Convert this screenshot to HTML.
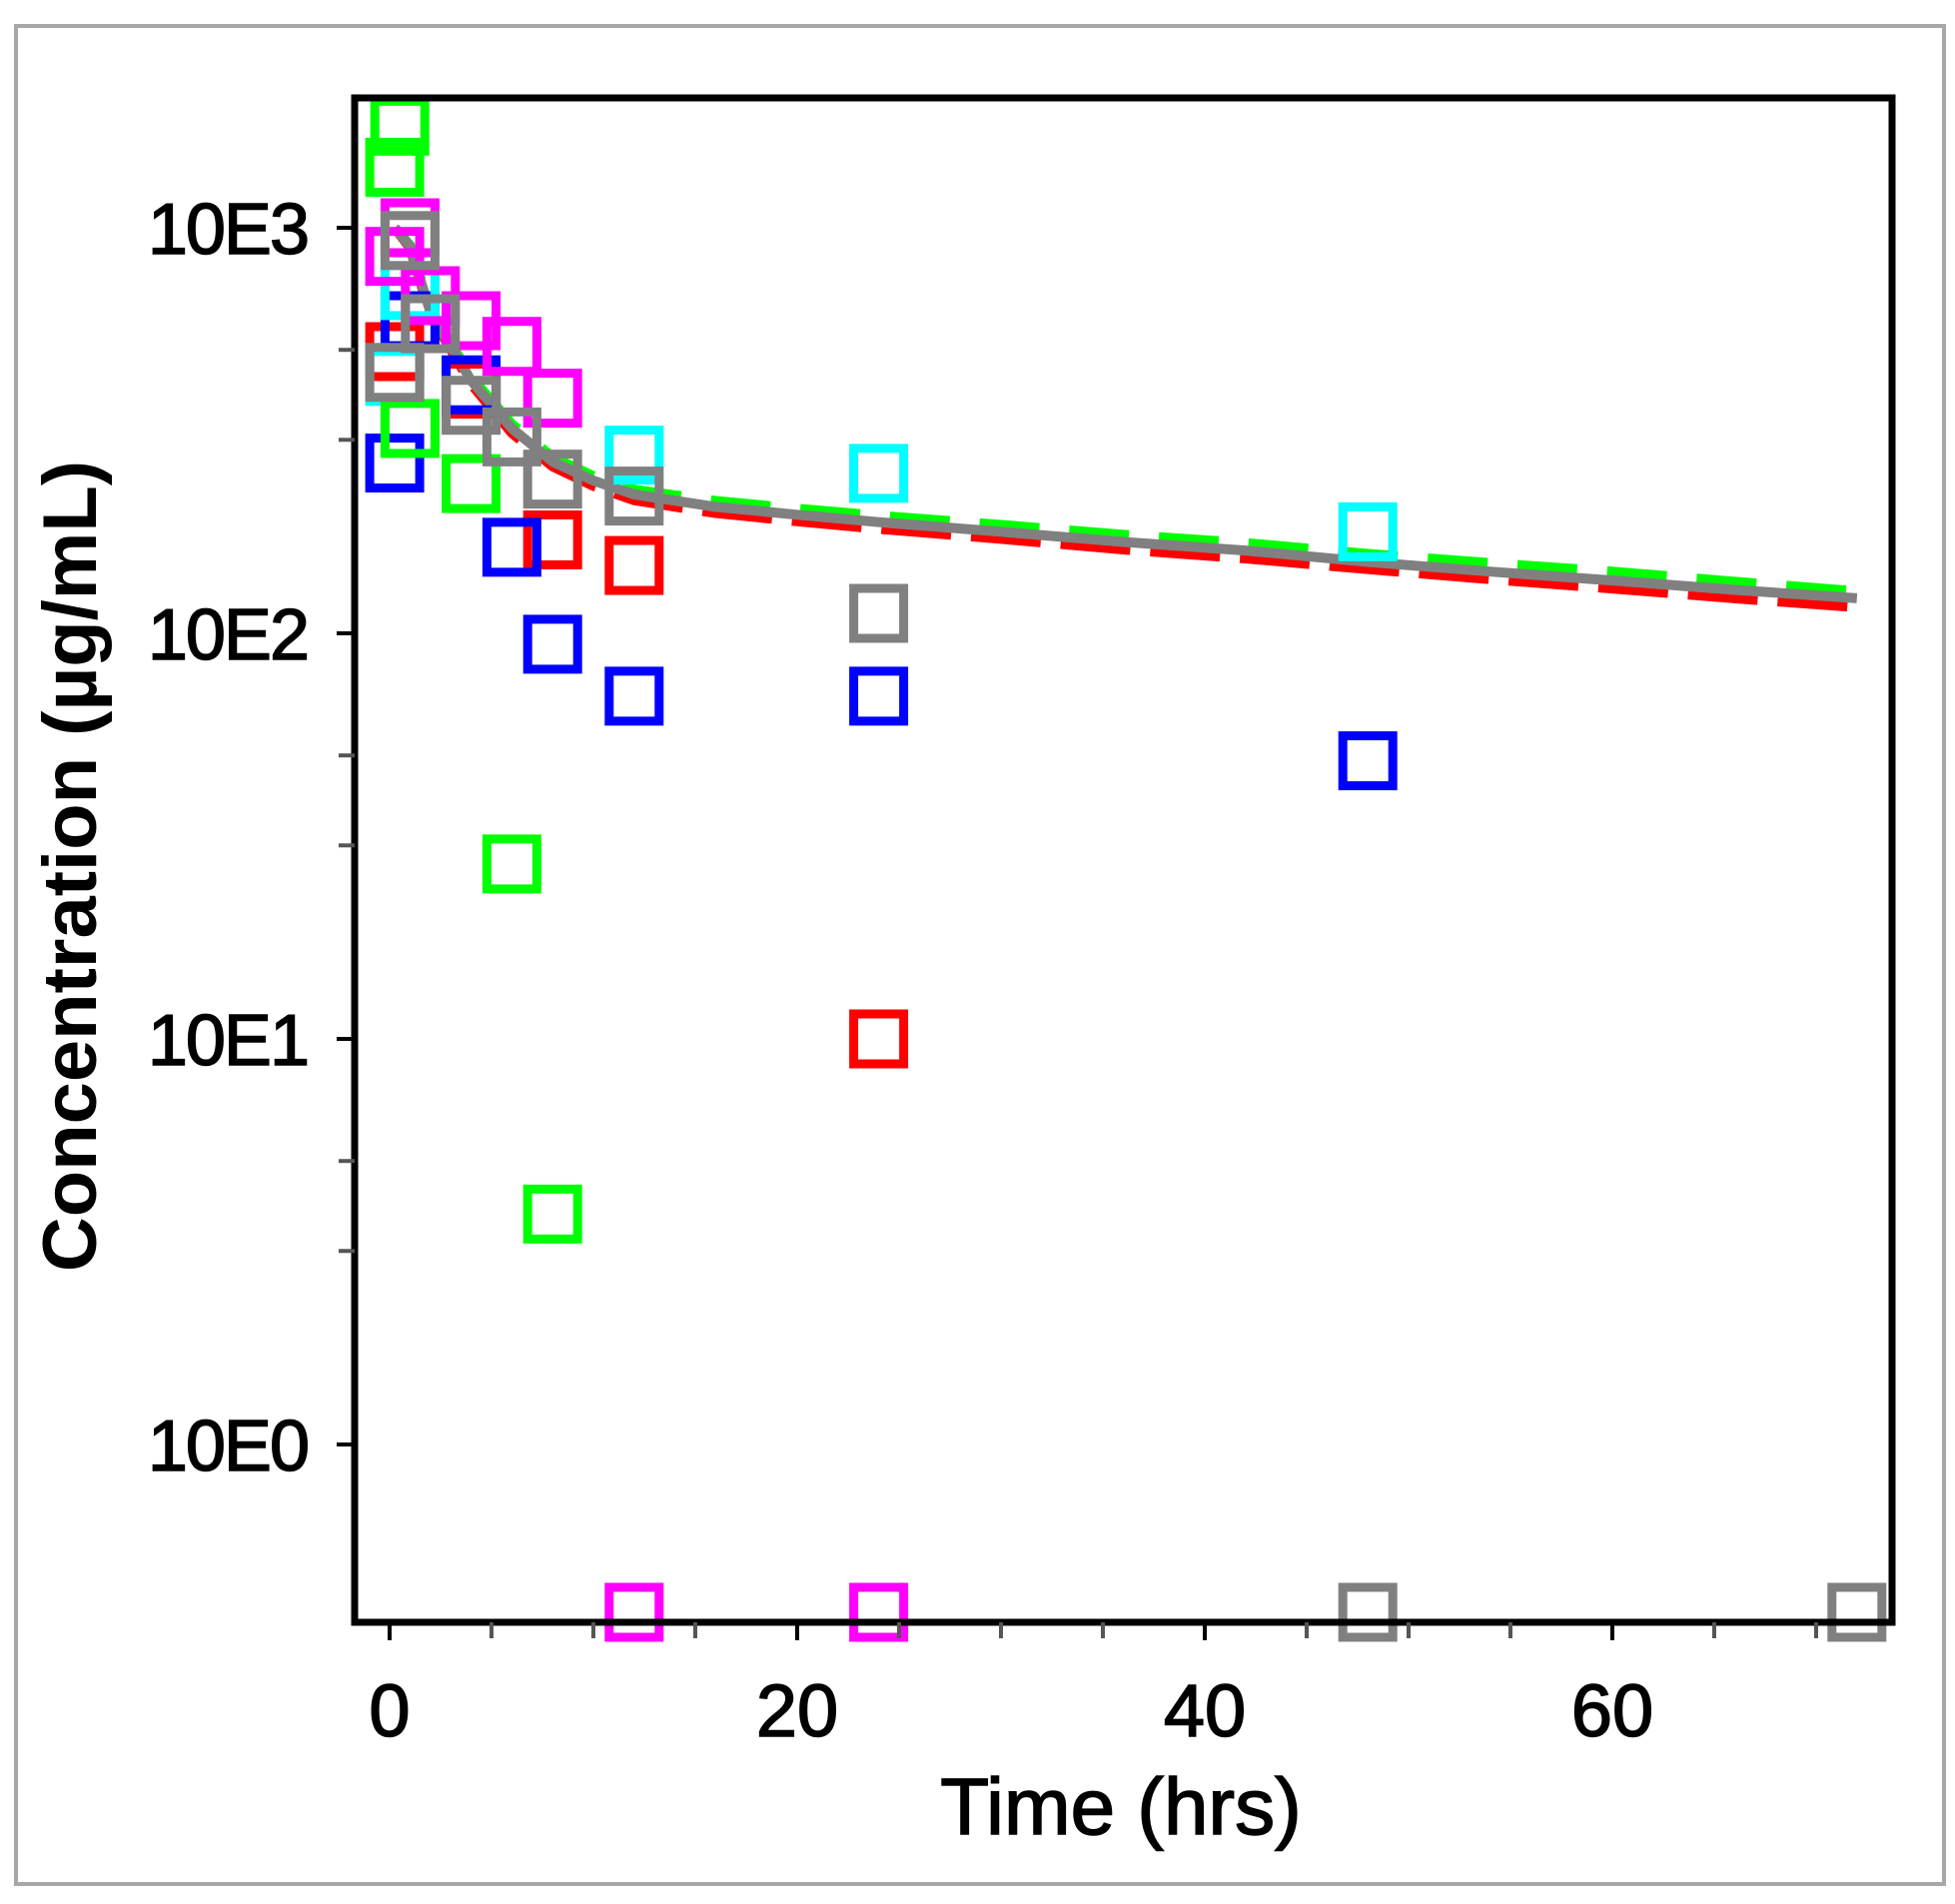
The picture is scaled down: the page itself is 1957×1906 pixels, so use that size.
<!DOCTYPE html>
<html><head><meta charset="utf-8">
<style>html,body{margin:0;padding:0;background:#fff}svg{display:block}</style>
</head><body>
<svg id="chart" xmlns="http://www.w3.org/2000/svg" width="1957" height="1906" viewBox="0 0 1957 1906">
<rect x="16" y="26" width="1930" height="1860" fill="#fff" stroke="#a8a8a8" stroke-width="4"/>
<g id="grid"></g>
<g id="lines"></g>
<g id="marks"></g>
<rect x="355" y="98" width="1539" height="1526" fill="none" stroke="#000" stroke-width="7"/>
<g id="axes"></g>
<text transform="translate(96,867) rotate(-90)" text-anchor="middle" font-family="Liberation Sans, sans-serif" font-weight="bold" font-size="76">Concentration (µg/mL)</text>
<text x="1122" y="1836" text-anchor="middle" font-family="Liberation Sans, sans-serif" font-size="80" stroke="#000" stroke-width="1.5">Time (hrs)</text>
</svg>
<script>
const xTicks=[0,20,40,60];
const xMinor=[5,10,15,25,30,35,45,50,55,65,70];
const yTicks=[0,1,2,3];
const yTickLabels=["10E0","10E1","10E2","10E3"];
const yMinorVals=[3,5,30,50,300,500];
const lineTimes=[0.25,1,2,4,6,8,10,12,16,20,24,30,36,42,48,54,60,66,72];
const predGray=[1000,900,620,420,320,265,238,220,205,196,188,178,168,160,150,142,135,128,122];
const predGreen=[1000,905,630,428,328,272,244,226,212,203,195,185,175,167,157,149,142,134,127];
const predCyan=[1000,895,615,415,315,260,233,215,200,191,183,173,163,155,145,137,130,123,117];
const predBlue=[1000,898,618,418,318,262,235,217,202,193,185,175,165,157,147,139,132,125,119];
const predRed=[1000,893,612,412,312,258,231,213,198,189,181,171,161,153,144,136,129,122,116];
const greenT=[0.25,0.5,1,4,6,8], greenC=[1410,1780,320,234,27,3.7];
const magT=[0.25,1,2,4,6,8,12,24], magC=[850,1000,680,590,510,380,0.38,0.38];
const cyanT=[0.25,1,12,24,48], cyanC=[430,700,275,248,178];
const redT=[0.25,4,8,12,24], redC=[495,400,170,147,10];
const blueT=[0.25,1,4,6,8,12,24,48], blueC=[263,590,410,163,94,70,70,48.5];
const grayT=[0.25,1,2,4,6,8,12,24,48,72], grayC=[440,930,580,365,305,240,218,112,0.38,0.38];

const NS="http://www.w3.org/2000/svg";
const X0=390, XS=20.4;
const Y0=1446, DEC=406;
function sx(t){return X0+XS*t;}
function sy(v){return Y0-DEC*Math.log10(v);}
function mk(tag,attrs,parent){const e=document.createElementNS(NS,tag);for(const k in attrs)e.setAttribute(k,attrs[k]);parent.appendChild(e);return e;}
const axes=document.getElementById('axes');
xTicks.forEach(t=>{
  const l=mk('line',{x1:sx(t),x2:sx(t),y1:1624,y2:1642,stroke:'#000','stroke-width':4},axes);
  
  
  const tx=mk('text',{x:sx(t),y:1738,'text-anchor':'middle','font-family':'Liberation Sans, sans-serif','font-size':74,stroke:'#000','stroke-width':1.5},axes);
  tx.textContent=t;
  
  
});
xMinor.forEach(t=>{
  const l=mk('line',{x1:sx(t),x2:sx(t),y1:1624,y2:1640,stroke:'#555','stroke-width':4},axes);
  
  
});
yTicks.forEach((p,i)=>{
  const y=Y0-DEC*p;
  const l=mk('line',{x1:337,x2:355,y1:y,y2:y,stroke:'#000','stroke-width':4},axes);
  
  
  const tx=mk('text',{x:308,y:y+26,'text-anchor':'end','font-family':'Liberation Sans, sans-serif','font-size':72,stroke:'#000','stroke-width':1.5,'letter-spacing':-2},axes);
  tx.textContent=yTickLabels[i];
  
  
});
yMinorVals.forEach(v=>{
  const y=sy(v);
  const l=mk('line',{x1:339,x2:355,y1:y,y2:y,stroke:'#555','stroke-width':4},axes);
  
  
});
const lines=document.getElementById('lines');
function drawLine(vals,color,dash,name){
  const d=lineTimes.map((t,i)=>(i?'L':'M')+sx(t).toFixed(1)+','+sy(vals[i]).toFixed(1)).join(' ');
  const p=mk('path',{d:d,fill:'none',stroke:color,'stroke-width':10,'stroke-dasharray':dash},lines);
  
  
}
drawLine(predGreen,'#00ff00','60 30','pred-line-green');
drawLine(predCyan,'#00ffff','50 40','pred-line-cyan');
drawLine(predBlue,'#0000ff','40 50','pred-line-blue');
drawLine(predRed,'#ff0000','70 20','pred-line-red');
drawLine(predGray,'#808080','none','pred-line-gray');
const marks=document.getElementById('marks');
function drawPts(T,C,color,name){
  T.forEach((t,i)=>{
    const x=sx(t), y=Math.min(sy(C[i]),1614);
    const r=mk('rect',{x:x-25,y:y-25,width:50,height:50,fill:'none',stroke:color,'stroke-width':9},marks);
    
    
  });
}
drawPts(redT,redC,'#ff0000','point-red');
drawPts(blueT,blueC,'#0000ff','point-blue');
drawPts(cyanT,cyanC,'#00ffff','point-cyan');
drawPts(greenT,greenC,'#00ff00','point-green');
drawPts(magT,magC,'#ff00ff','point-magenta');
drawPts(grayT,grayC,'#808080','point-gray');
</script>
</body></html>
